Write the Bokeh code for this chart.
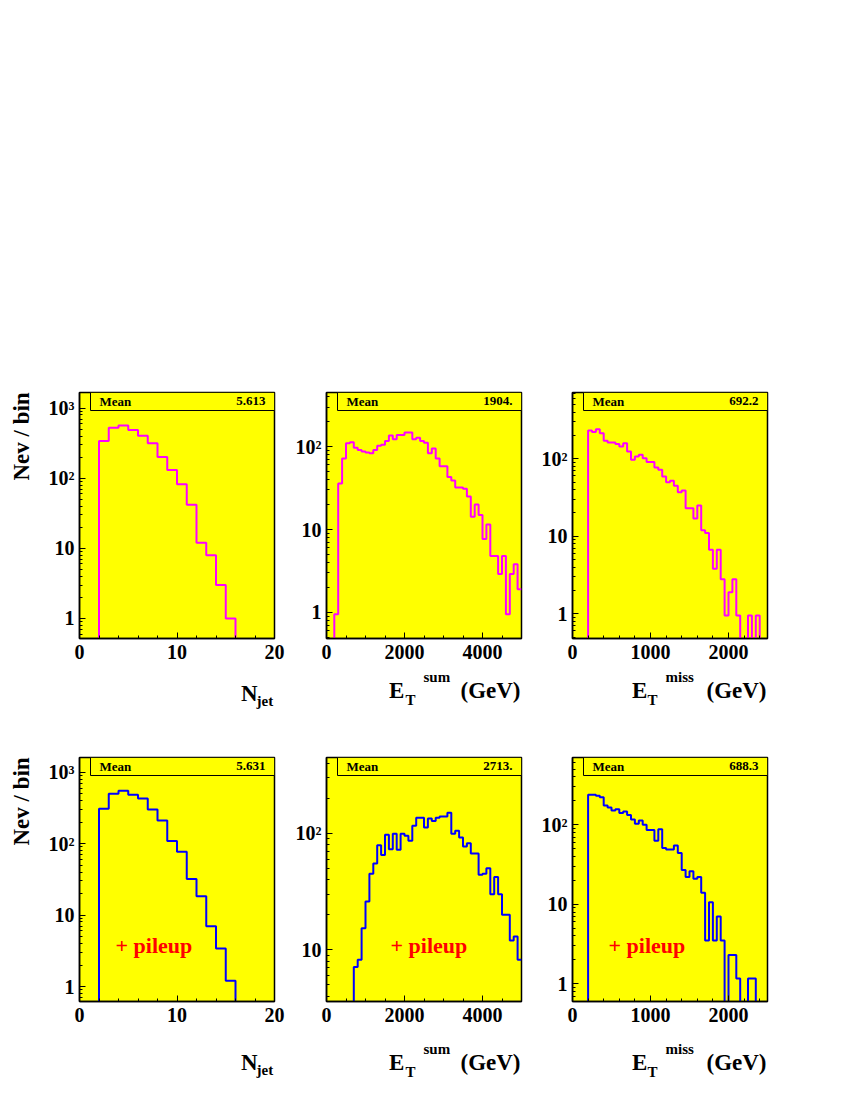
import math
from bokeh.plotting import figure
from bokeh.layouts import column, row
from bokeh.models import Range1d, FixedTicker, SingleIntervalTicker, Label, BoxAnnotation, Spacer
from bokeh.core.properties import value
from bokeh.embed import file_html
from bokeh.resources import INLINE

# ---------------- data ----------------
njet_bins = list(range(0, 21))
njet_counts = [0, 0, 341, 524, 565, 490, 403, 316, 202, 131,
               82, 42, 12, 8, 3, 1, 0, 0, 0, 0]
njet_counts_pu = [0, 0, 307, 498, 548, 482, 428, 300, 211, 109,
                  77, 32, 18.4, 7, 3.4, 1.2, 0, 0, 0, 0]

etsum_bins = list(range(0, 5001, 100))
etsum_counts = [0, 0, 0.95, 36, 72, 110, 113, 97, 91, 87,
                85, 83, 91, 102, 105, 117, 136, 123, 138, 138,
                148, 148, 123, 128, 117, 111, 83, 95, 72, 58,
                58, 43, 39, 32, 32, 31, 25, 14.3, 20, 15,
                7.7, 11.5, 4.8, 4.8, 2.9, 4.8, 0.95, 2.9, 3.8, 1.9]
etsum_counts_pu = [0, 0, 0, 0, 0, 0, 0, 7.1, 8.2, 15.3,
                   26, 45, 55, 79, 65, 97, 73, 99, 72, 99,
                   95, 86, 116, 136, 136, 112, 134, 127, 136, 139,
                   139, 150, 99, 105, 92, 77, 82, 67, 67, 44,
                   45, 50, 30, 42, 30, 20, 20, 12, 13, 8.2]

etmiss_bins = list(range(0, 2501, 50))
etmiss_counts = [0, 0, 0, 0, 232, 221, 241, 214, 171, 162,
                 162, 155, 144, 159, 124, 97, 107, 113, 102, 91,
                 91, 77, 72, 59, 50, 52, 45, 37, 39, 23,
                 23, 17, 25, 12, 11, 6.7, 3.8, 6.7, 2.8, 0.95,
                 1.9, 2.8, 0.95, 0, 0, 0.95, 0, 0.95, 0, 0]
etmiss_counts_pu = [0, 0, 0, 0, 238, 238, 231, 222, 175, 165,
                    151, 157, 140, 147, 133, 116, 103, 113, 100, 86,
                    86, 63, 88, 51, 49, 49, 55, 44, 27, 22,
                    26, 21, 22, 14, 3.5, 10.6, 3.5, 7, 3.5, 0,
                    2.3, 2.3, 1.17, 0, 0, 1.17, 1.17, 0, 0, 0]

mean_labels = ["5.613", "1904.", "692.2", "5.631", "2713.", "688.3"]
y_ranges = [(0.518, 1675), (0.485, 449), (0.48, 717),
            (0.617, 1604), (3.6, 446), (0.6, 700)]
y_tick_values = [1, 10, 100, 1000]
y_tick_labels = ["1", "10", "10\u00b2", "10\u00b3"]
y_title = "Nev / bin"
pileup_text = "+ pileup"

FONT = "Liberation Serif"
YELLOW = "#ffff00"
MAG = "#ff00ff"
BLUE = "#0000ff"
FRAME_W = 195
ALPHA_FIX = 0.42   # baseline correction (fraction of the font size)

# layout geometry (pixels)
LEFT_W = 40
colA = (39, 12)
colB = (40, 9)
colC = (42, 23)
top_b = (391, 33)
bot_b = (36, 33)
TOP_H = 246
BOT_H = 244
STRIP1_H = 50
STRIP2_H = 52
YT_LEN = 88   # length of the rotated y title


def add_label(p, text, at_x, at_y, dx, dy, size, align="left", color="black"):
    p.add_layout(Label(x=at_x, y=at_y, x_offset=dx, y_offset=dy + ALPHA_FIX * size,
                       text=text, text_font=FONT, text_font_style="bold",
                       text_font_size=f"{size}px", text_color=color,
                       text_align=align, text_baseline="alphabetic"))


def make_panel(edges, counts, color, yr, mean_text, x_interval, x_minor,
               frame_h, borders, pileup_dx):
    x0, x1 = edges[0], edges[-1]
    y_lo, y_hi = yr
    bl, br, bt, bb = borders
    p = figure(x_range=Range1d(x0, x1), y_range=Range1d(y_lo, y_hi),
               y_axis_type="log", frame_width=FRAME_W, frame_height=frame_h,
               min_border_left=bl, min_border_right=br,
               min_border_top=bt, min_border_bottom=bb,
               output_backend="svg", toolbar_location=None, title=None,
               background_fill_color=YELLOW, border_fill_color="white",
               outline_line_color="black", outline_line_width=1.5)
    p.grid.visible = False

    floor = y_lo * 1e-3
    ys = [c if c > 0 else floor for c in counts]
    ys.append(ys[-1])
    p.step(edges, ys, mode="after", line_color=color, line_width=2)

    p.xaxis.ticker = SingleIntervalTicker(interval=x_interval, num_minor_ticks=x_minor)
    minor = [k * 10 ** d for d in range(-1, 4) for k in range(2, 10)]
    p.yaxis.ticker = FixedTicker(ticks=y_tick_values, minor_ticks=minor)
    p.yaxis.major_label_overrides = dict(zip(y_tick_values, y_tick_labels))
    for ax in (p.xaxis[0], p.yaxis[0]):
        ax.major_label_text_font = FONT
        ax.major_label_text_font_style = "bold"
        ax.major_label_text_font_size = "20px"
        ax.major_label_text_color = "black"
        ax.major_tick_in = 6
        ax.major_tick_out = 0
        ax.minor_tick_in = 3
        ax.minor_tick_out = 0
        ax.axis_line_width = 1.5
        ax.axis_line_color = "black"
        ax.major_tick_line_color = "black"
        ax.minor_tick_line_color = "black"
    p.xaxis.major_label_standoff = 6
    p.yaxis.major_label_standoff = 5

    # statistics box
    box_left = x0 + (x1 - x0) * 11 / FRAME_W
    lspan = math.log10(y_hi) - math.log10(y_lo)
    box_bottom = 10 ** (math.log10(y_hi) - lspan * 18 / frame_h)
    p.add_layout(BoxAnnotation(left=box_left, right=x1, bottom=box_bottom, top=y_hi,
                               fill_color=YELLOW, fill_alpha=1.0,
                               line_color="black", line_alpha=1.0, line_width=1))
    add_label(p, "Mean", box_left, y_hi, 9, -14, 13)
    add_label(p, mean_text, x1, y_hi, -9, -14, 13, align="right")

    if pileup_dx is not None:
        add_label(p, pileup_text, x0, y_lo, pileup_dx, 47, 22, color="#ff0000")
    return p


def add_text(p, x, y, text, size, align, dx=0):
    p.text(x=[x], y=[y + ALPHA_FIX * size], text=[text], x_offset=dx,
           text_font=value(FONT), text_font_style="bold",
           text_font_size=value(f"{size}px"), text_color="black",
           text_align=align, text_baseline="alphabetic")


def bare_fig(x_range, width_borders, height, frame_w):
    bl, br = width_borders
    p = figure(x_range=x_range, y_range=Range1d(0, height),
               frame_width=frame_w, frame_height=height,
               min_border_left=bl, min_border_right=br,
               min_border_top=0, min_border_bottom=0,
               x_axis_location=None, y_axis_location=None,
               output_backend="svg", toolbar_location=None, title=None,
               background_fill_color="white", border_fill_color="white",
               outline_line_color=None)
    p.grid.visible = False
    return p


def title_strip(edges, borders, height, parts, base):
    # parts: (text, dx from frame right, depth of baseline from strip top, size, align)
    x1 = edges[-1]
    p = bare_fig(Range1d(edges[0], x1), borders, height, FRAME_W)
    for text, dx, depth, size, align in parts:
        add_text(p, x1, height - (base + depth), text, size, align, dx=dx)
    return p


def ytitle_strip(height, top_gap):
    # an (invisible) left axis whose label is the rotated y title; the small
    # frame spans exactly the extent where the title should sit
    p = figure(x_range=Range1d(0, 1), y_range=Range1d(0, 1),
               frame_width=LEFT_W - 33, frame_height=YT_LEN,
               min_border_left=33, min_border_right=0,
               min_border_top=top_gap, min_border_bottom=height - top_gap - YT_LEN,
               x_axis_location=None, y_axis_location="left",
               output_backend="svg", toolbar_location=None, title=None,
               background_fill_color="white", border_fill_color="white",
               outline_line_color=None)
    p.grid.visible = False
    ax = p.yaxis[0]
    ax.ticker = FixedTicker(ticks=[])
    ax.axis_line_color = None
    ax.major_tick_line_color = None
    ax.minor_tick_line_color = None
    ax.major_label_standoff = 0
    ax.axis_label = y_title
    ax.axis_label_standoff = 0
    ax.axis_label_text_font = FONT
    ax.axis_label_text_font_style = "bold"
    ax.axis_label_text_font_size = "23px"
    ax.axis_label_text_color = "black"
    return p


njet_title = [("N", -17, 0, 23, "right"), ("jet", -18, 4, 15, "left")]
etsum_title = [("E", -132.5, 0, 23, "left"), ("T", -116, 6, 15, "left"),
               ("sum", -98, -17, 15, "left"), ("(GeV)", -1, 0, 23, "right")]
etmiss_title = [("E", -135.5, 0, 23, "left"), ("T", -120, 6, 15, "left"),
                ("miss", -102, -17, 15, "left"), ("(GeV)", -1, 0, 23, "right")]

pA = make_panel(njet_bins, njet_counts, MAG, y_ranges[0], mean_labels[0], 10, 5, TOP_H,
                colA + top_b, None)
pB = make_panel(etsum_bins, etsum_counts, MAG, y_ranges[1], mean_labels[1], 2000, 4, TOP_H,
                colB + top_b, None)
pC = make_panel(etmiss_bins, etmiss_counts, MAG, y_ranges[2], mean_labels[2], 1000, 5, TOP_H,
                colC + top_b, None)
pD = make_panel(njet_bins, njet_counts_pu, BLUE, y_ranges[3], mean_labels[3], 10, 5, BOT_H,
                colA + bot_b, 36)
pE = make_panel(etsum_bins, etsum_counts_pu, BLUE, y_ranges[4], mean_labels[4], 2000, 4, BOT_H,
                colB + bot_b, 64)
pF = make_panel(etmiss_bins, etmiss_counts_pu, BLUE, y_ranges[5], mean_labels[5], 1000, 5, BOT_H,
                colC + bot_b, 36)

top_total = top_b[0] + TOP_H + top_b[1]
bot_total = bot_b[0] + BOT_H + bot_b[1]
yA = ytitle_strip(top_total, top_b[0] + 1)
yD = ytitle_strip(bot_total, bot_b[0] + 1)

tA = title_strip(njet_bins, colA, STRIP1_H, njet_title, 33)
tB = title_strip(etsum_bins, colB, STRIP1_H, etsum_title, 30)
tC = title_strip(etmiss_bins, colC, STRIP1_H, etmiss_title, 30)
tD = title_strip(njet_bins, colA, STRIP2_H, njet_title, 39)
tE = title_strip(etsum_bins, colB, STRIP2_H, etsum_title, 39)
tF = title_strip(etmiss_bins, colC, STRIP2_H, etmiss_title, 39)

layout = column(
    row(yA, pA, pB, pC),
    row(Spacer(width=LEFT_W, height=STRIP1_H), tA, tB, tC),
    row(yD, pD, pE, pF),
    row(Spacer(width=LEFT_W, height=STRIP2_H), tD, tE, tF),
)
open("out.html", "w").write(file_html(layout, INLINE))
